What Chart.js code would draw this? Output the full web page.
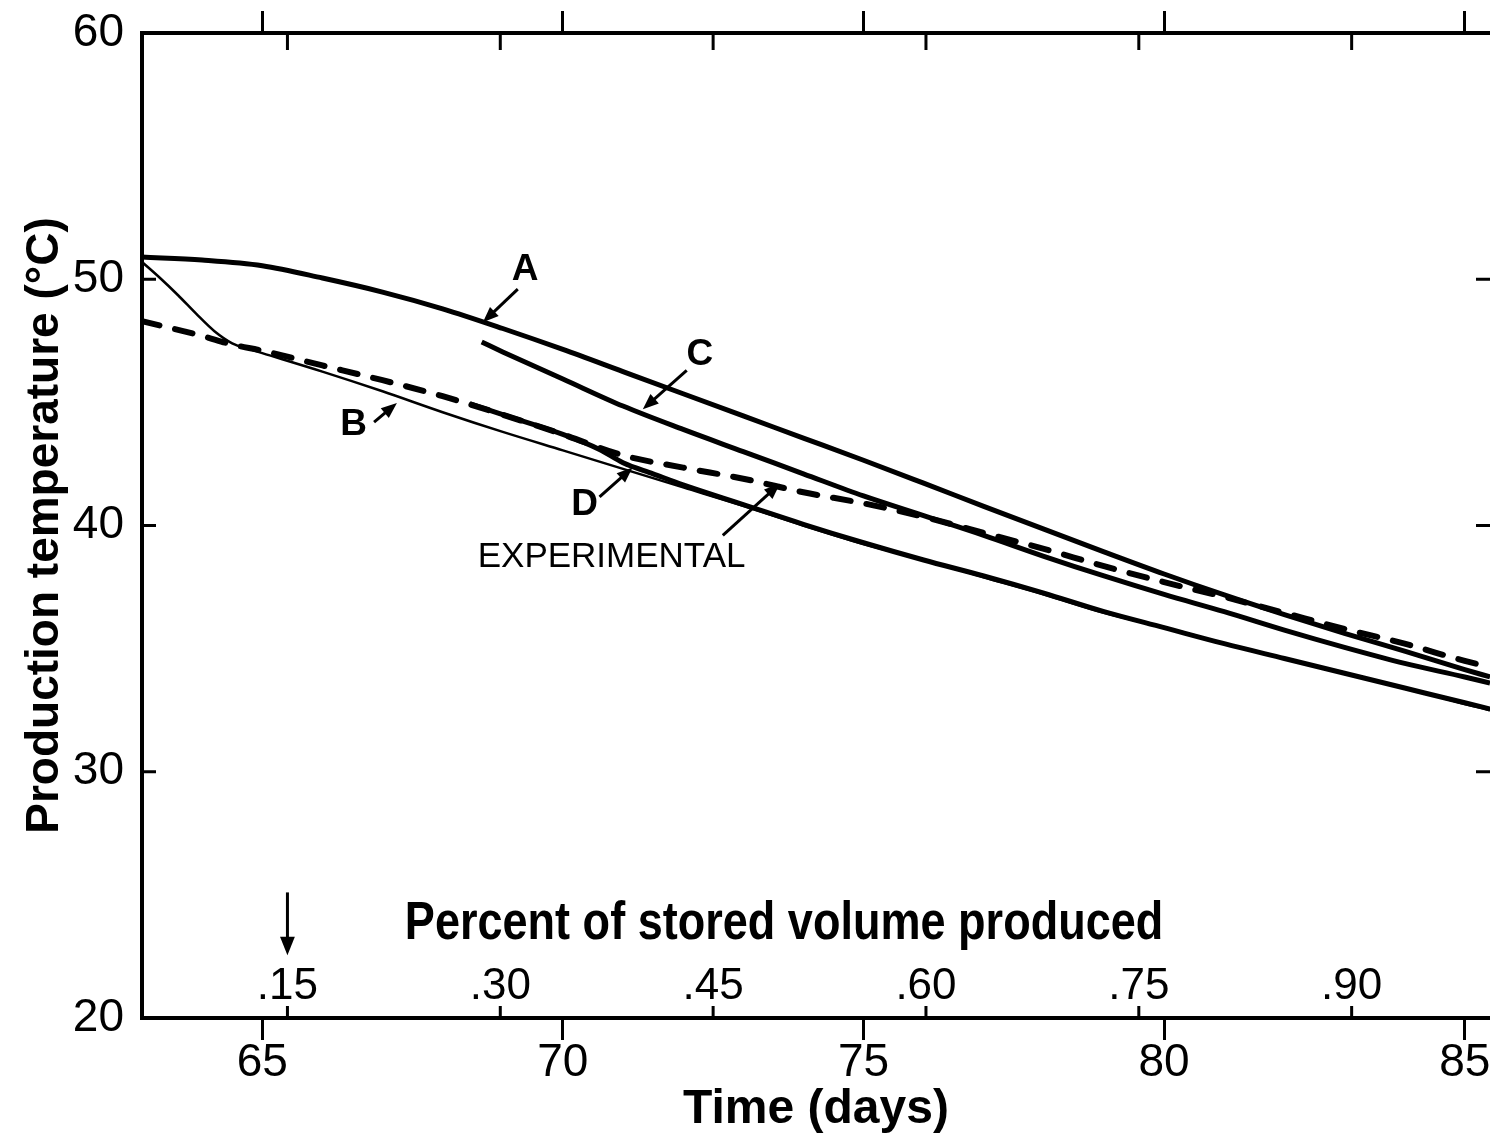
<!DOCTYPE html>
<html>
<head>
<meta charset="utf-8">
<script src="https://cdn.jsdelivr.net/npm/chart.js"></script>
<style>
  html, body { margin: 0; padding: 0; background: #fff; }
</style>
</head>
<body>
<canvas id="chart" width="1490" height="1136"></canvas>
<script>
// axis ticks
const timeTicks = [65, 70, 75, 80, 85];
const tempTicks = [20, 30, 40, 50, 60];
const percentTicks = [0.15, 0.30, 0.45, 0.60, 0.75, 0.90];
const percentLabels = ['.15', '.30', '.45', '.60', '.75', '.90'];

// curve A
const daysA = [63, 64, 65, 66, 67, 68, 69, 70, 71, 72, 73, 74, 75, 76, 77, 78, 79, 80, 81, 82, 83, 84, 85, 85.42];
const tempA = [50.9, 50.78, 50.55, 50.05, 49.48, 48.8, 48.0, 47.15, 46.25, 45.35, 44.45, 43.55, 42.65, 41.72, 40.78, 39.85, 38.93, 38.03, 37.18, 36.38, 35.62, 34.9, 34.15, 33.85];

// curve B
const daysB = [63, 63.3, 63.6, 63.9, 64.2, 64.5, 64.8, 65, 66, 67, 68, 69, 70, 71, 72, 73, 74, 75, 76, 77, 78, 79, 80, 81, 82, 83, 84, 85, 85.42];
const tempB = [50.7, 50.05, 49.35, 48.6, 47.9, 47.4, 47.15, 47.0, 46.25, 45.45, 44.6, 43.8, 43.05, 42.3, 41.55, 40.8, 40.0, 39.25, 38.6, 37.9, 37.2, 36.45, 35.85, 35.2, 34.6, 34.0, 33.4, 32.75, 32.5];

// curve C
const daysC = [68.65, 69, 70, 71, 72, 73, 74, 75, 76, 77, 78, 79, 80, 81, 82, 83, 84, 85, 85.42];
const tempC = [47.45, 47.05, 45.95, 44.85, 43.9, 43.0, 42.1, 41.2, 40.4, 39.6, 38.75, 37.95, 37.2, 36.5, 35.75, 35.05, 34.4, 33.85, 33.6];

// curve D
const daysD = [68.45, 69, 70, 70.6, 71, 71.5, 72, 73, 74, 75, 76, 77, 78, 79, 80, 81, 82, 83, 84, 85, 85.42];
const tempD = [44.95, 44.5, 43.7, 43.1, 42.55, 42.1, 41.65, 40.85, 40.05, 39.3, 38.6, 37.95, 37.25, 36.5, 35.85, 35.2, 34.6, 34.0, 33.4, 32.8, 32.55];

// experimental
const daysExp = [63, 64, 64.5, 65, 66, 67, 68, 69, 70, 71, 72, 73, 74, 75, 76, 77, 78, 79, 80, 81, 82, 83, 84, 85, 85.42];
const tempExp = [48.3, 47.7, 47.35, 47.1, 46.5, 45.9, 45.25, 44.5, 43.7, 42.85, 42.35, 41.9, 41.35, 40.9, 40.35, 39.7, 39.05, 38.35, 37.7, 37.1, 36.45, 35.8, 35.2, 34.5, 34.25];

const ink = '#000';
const family = "'Liberation Sans', Arial, sans-serif";

function pts(xs, ys) {
  return xs.map((v, i) => ({ x: v, y: ys[i] }));
}

function line(data, width, dash) {
  return {
    data: data,
    borderColor: ink,
    borderWidth: width,
    borderDash: dash || [],
    borderCapStyle: dash ? 'round' : 'butt',
    pointRadius: 0,
    fill: false,
    cubicInterpolationMode: 'monotone'
  };
}

function arrow(ctx, x1, y1, x2, y2, head) {
  const a = Math.atan2(y2 - y1, x2 - x1);
  ctx.beginPath();
  ctx.moveTo(x1, y1);
  ctx.lineTo(x2 - Math.cos(a) * head * 0.7, y2 - Math.sin(a) * head * 0.7);
  ctx.stroke();
  ctx.beginPath();
  ctx.moveTo(x2, y2);
  ctx.lineTo(x2 - head * Math.cos(a - 0.38), y2 - head * Math.sin(a - 0.38));
  ctx.lineTo(x2 - head * Math.cos(a + 0.38), y2 - head * Math.sin(a + 0.38));
  ctx.closePath();
  ctx.fill();
}

// curve labels: text spot, arrow tail, arrow tip (data coords)
const notes = [
  { text: 'A', font: 'bold 37px', at: [69.37, 50.38], from: [69.25, 49.6], to: [68.67, 48.25] },
  { text: 'B', font: 'bold 37px', at: [66.52, 44.1], from: [66.86, 44.2], to: [67.24, 44.97] },
  { text: 'C', font: 'bold 37px', at: [72.28, 46.92], from: [72.06, 46.3], to: [71.33, 44.72] },
  { text: 'D', font: 'bold 37px', at: [70.36, 40.83], from: [70.61, 41.16], to: [71.16, 42.36] },
  { text: 'EXPERIMENTAL', font: '35px', at: [70.81, 38.72], from: [72.66, 39.6], to: [73.61, 41.7] }
];

const decor = {
  id: 'decor',
  afterDraw(chart) {
    const { ctx, chartArea: area } = chart;
    const { x, y, xp } = chart.scales;
    ctx.save();
    ctx.strokeStyle = ink;
    ctx.fillStyle = ink;
    ctx.lineWidth = 3;

    // short inward ticks on both sides
    [30, 40, 50].forEach(v => {
      const py = y.getPixelForValue(v);
      ctx.beginPath();
      ctx.moveTo(area.left, py); ctx.lineTo(area.left + 14, py);
      ctx.moveTo(area.right, py); ctx.lineTo(area.right - 14, py);
      ctx.stroke();
    });

    // percent scale drawn inside the plot
    ctx.font = '44px ' + family;
    ctx.textAlign = 'center';
    ctx.textBaseline = 'middle';
    percentTicks.forEach((p, i) => {
      const px = xp.getPixelForValue(p);
      ctx.beginPath();
      ctx.moveTo(px, area.bottom); ctx.lineTo(px, area.bottom - 12);
      ctx.moveTo(px, area.top); ctx.lineTo(px, area.top + 17);
      ctx.stroke();
      ctx.fillText(percentLabels[i], px, area.bottom - 31);
    });

    // condensed bold caption like the lettering in the figure
    ctx.save();
    ctx.translate(xp.getPixelForValue(0.5), y.getPixelForValue(23.8));
    ctx.scale(0.85, 1);
    ctx.font = 'bold 53px ' + family;
    ctx.fillText('Percent of stored volume produced', 0, 0);
    ctx.restore();

    const ax = xp.getPixelForValue(0.15);
    arrow(ctx, ax, y.getPixelForValue(25.1), ax, y.getPixelForValue(22.55), 20);

    // curve labels
    notes.forEach(n => {
      ctx.font = n.font + ' ' + family;
      ctx.fillText(n.text, x.getPixelForValue(n.at[0]), y.getPixelForValue(n.at[1]));
      arrow(ctx, x.getPixelForValue(n.from[0]), y.getPixelForValue(n.from[1]),
        x.getPixelForValue(n.to[0]), y.getPixelForValue(n.to[1]), 17);
    });
    ctx.restore();
  }
};

Chart.defaults.font.family = family;
Chart.defaults.color = ink;

const setTicks = list => scale => { scale.ticks = list.map(v => ({ value: v })); };

new Chart(document.getElementById('chart'), {
  type: 'line',
  data: {
    datasets: [
      line(pts(daysA, tempA), 5),
      line(pts(daysC, tempC), 5),
      line(pts(daysD, tempD), 5),
      line(pts(daysB, tempB), 2.5),
      line(pts(daysExp, tempExp), 6, [18, 16])
    ]
  },
  options: {
    responsive: false,
    animation: false,
    events: [],
    layout: { autoPadding: false, padding: { top: 11, left: 0, right: 0, bottom: 0 } },
    plugins: { legend: { display: false }, tooltip: { enabled: false } },
    scales: {
      x: {
        type: 'linear', position: 'bottom', min: 63, max: 85.42,
        afterBuildTicks: setTicks(timeTicks),
        border: { display: true, color: ink, width: 4 },
        grid: { drawOnChartArea: false, drawTicks: true, tickLength: 22, tickWidth: 3, tickColor: ink },
        ticks: { font: { size: 46 }, padding: -4, maxRotation: 0, autoSkip: false },
        title: { display: true, text: 'Time (days)', font: { size: 48, weight: 'bold' }, padding: { top: 0, bottom: -3 } },
        afterFit: s => { s.height = 118; s.paddingLeft = 0; s.paddingRight = 0; }
      },
      x2: {
        type: 'linear', position: 'top', min: 63, max: 85.42,
        afterBuildTicks: setTicks(timeTicks),
        border: { display: true, color: ink, width: 4 },
        grid: { drawOnChartArea: false, drawTicks: true, tickLength: 22, tickWidth: 3, tickColor: ink },
        ticks: { display: false },
        afterFit: s => { s.height = 22; }
      },
      xp: {
        type: 'linear', display: false, min: 0.0475, max: 0.9975
      },
      y: {
        type: 'linear', position: 'left', min: 20, max: 60,
        afterBuildTicks: setTicks(tempTicks),
        border: { display: true, color: ink, width: 4 },
        grid: { drawOnChartArea: false, drawTicks: false },
        ticks: { font: { size: 46 }, padding: 18 },
        title: { display: true, text: 'Production temperature (°C)', font: { size: 46, weight: 'bold' }, padding: { top: 18, bottom: 0 } },
        afterFit: s => { s.width = 142; s.paddingTop = 0; s.paddingBottom = 0; }
      }
    }
  },
  plugins: [decor]
});
</script>
</body>
</html>
